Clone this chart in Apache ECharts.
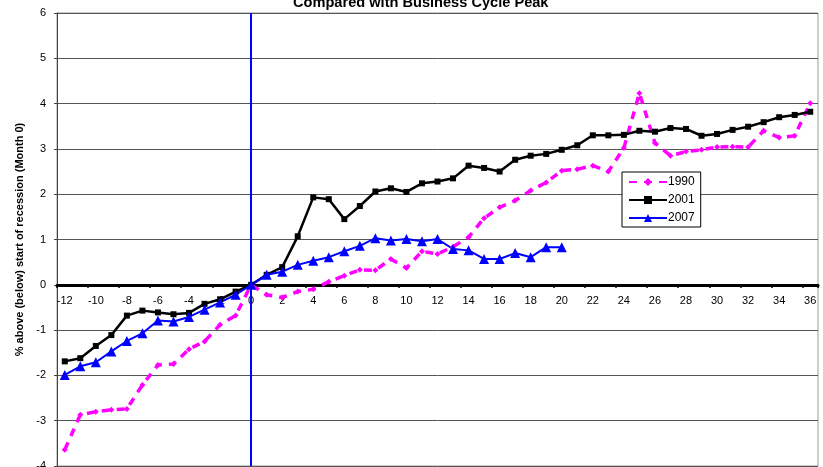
<!DOCTYPE html>
<html>
<head>
<meta charset="utf-8">
<script src="https://cdn.jsdelivr.net/npm/echarts@6/dist/echarts.min.js"></script>
<style>
  html, body { margin: 0; padding: 0; background: #fff; }
  #chart { width: 823px; height: 467px; }
</style>
</head>
<body>
<div id="chart"></div>
<script>
  // months relative to business cycle peak
  const months = []
  for (let m = -12; m <= 36; m++) months.push(String(m))

  const s1990 = [-3.64, -2.87, -2.80, -2.76, -2.74, -2.21, -1.77, -1.75, -1.42, -1.25, -0.88, -0.68,
    0, -0.22, -0.28, -0.15, -0.10, 0.07, 0.20, 0.33, 0.32, 0.57, 0.37, 0.74, 0.68, 0.84,
    1.05, 1.47, 1.71, 1.86, 2.08, 2.26, 2.52, 2.55, 2.63, 2.50, 3.02, 4.23, 3.13, 2.85,
    2.94, 2.98, 3.04, 3.05, 3.04, 3.40, 3.25, 3.29, 4.01]

  const s2001 = [-1.69, -1.62, -1.35, -1.11, -0.68, -0.57, -0.61, -0.65, -0.62, -0.42, -0.32, -0.15,
    0, 0.22, 0.39, 1.07, 1.93, 1.89, 1.45, 1.74, 2.06, 2.13, 2.05, 2.24, 2.28, 2.35,
    2.63, 2.58, 2.50, 2.76, 2.85, 2.89, 2.98, 3.08, 3.30, 3.30, 3.31, 3.40, 3.38, 3.46,
    3.44, 3.29, 3.33, 3.42, 3.49, 3.59, 3.70, 3.75, 3.82]

  const s2007 = [-1.99, -1.80, -1.71, -1.47, -1.24, -1.07, -0.79, -0.81, -0.71, -0.55, -0.39, -0.22,
    0, 0.22, 0.29, 0.44, 0.53, 0.61, 0.74, 0.86, 1.03, 0.98, 1.01, 0.96, 1.01, 0.79,
    0.76, 0.57, 0.57, 0.70, 0.61, 0.83, 0.83]

  const font = 'Liberation Sans, Arial, sans-serif'

  const myChart = echarts.init(document.getElementById('chart'))
  const option = {
    animation: false,
    textStyle: { fontFamily: font },
    title: {
      text: 'Compared with Business Cycle Peak',
      left: 288,
      top: -10,
      textStyle: { fontSize: 14.6, fontWeight: 'bold', color: '#000', fontFamily: font }
    },
    legend: {
      data: ['1990', '2001', '2007'],
      orient: 'vertical',
      left: 622,
      top: 172,
      backgroundColor: '#fff',
      borderColor: '#000',
      borderWidth: 1,
      borderRadius: 0,
      padding: [4, 6, 3, 6],
      itemGap: 6,
      itemWidth: 38,
      itemHeight: 10,
      textStyle: { fontSize: 12, color: '#000', fontFamily: font, padding: [0, 0, 0, -4] }
    },
    grid: {
      left: 57,
      right: 5,
      top: 13,
      bottom: 1,
      containLabel: false,
      outerBoundsMode: 'none',
      show: true,
      borderColor: '#999',
      borderWidth: 1
    },
    xAxis: [
      {
        // axis line sits on y = 0
        type: 'category',
        data: months,
        boundaryGap: true,
        axisLine: { onZero: true, lineStyle: { color: '#000', width: 3 } },
        axisTick: { show: true, length: 3, lineStyle: { color: '#000', width: 2 } },
        axisLabel: { show: false }
      },
      {
        // labels only, pulled up to the zero line
        type: 'category',
        data: months,
        boundaryGap: true,
        position: 'bottom',
        offset: -181,
        axisLine: { show: false, onZero: false },
        axisTick: { show: false },
        axisLabel: { interval: 1, margin: 10, fontSize: 11, color: '#000', fontFamily: font }
      }
    ],
    yAxis: {
      type: 'value',
      min: -4,
      max: 6,
      interval: 1,
      name: '% above (below) start of recession (Month 0)',
      nameLocation: 'middle',
      nameGap: 28,
      nameTextStyle: { fontSize: 11, fontWeight: 'bold', color: '#000', fontFamily: font },
      axisLine: { show: true, lineStyle: { color: '#444', width: 1 } },
      axisTick: { show: true, length: 3, lineStyle: { color: '#444' } },
      axisLabel: { margin: 11, fontSize: 11, color: '#000', fontFamily: font },
      splitLine: { lineStyle: { color: '#555', width: 1 } }
    },
    series: [
      {
        name: '1990',
        type: 'line',
        data: s1990,
        symbol: 'diamond',
        symbolSize: 6,
        itemStyle: { color: '#FF00FF' },
        lineStyle: { color: '#FF00FF', width: 3.5, type: [8, 7] }
      },
      {
        name: '2001',
        type: 'line',
        data: s2001,
        symbol: 'rect',
        symbolSize: 6,
        itemStyle: { color: '#000' },
        lineStyle: { color: '#000', width: 2.5 }
      },
      {
        name: '2007',
        type: 'line',
        data: s2007,
        symbol: 'triangle',
        symbolSize: 10,
        itemStyle: { color: '#0000FF' },
        lineStyle: { color: '#0000FF', width: 2 },
        markLine: {
          silent: true,
          symbol: 'none',
          label: { show: false },
          lineStyle: { color: '#0000FF', width: 2, type: 'solid' },
          data: [{ xAxis: '0' }]
        }
      }
    ]
  }
  myChart.setOption(option)
</script>
</body>
</html>
